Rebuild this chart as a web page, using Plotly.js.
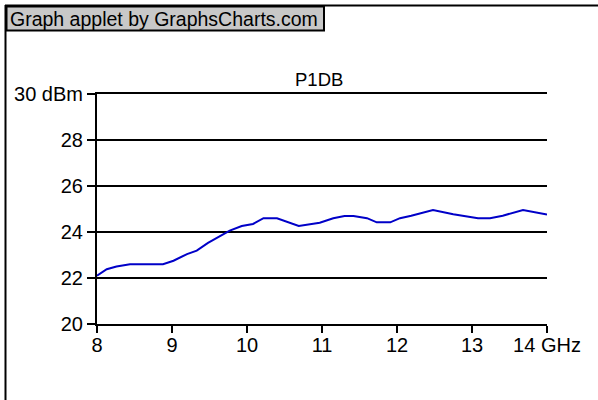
<!DOCTYPE html>
<html>
<head>
<meta charset="utf-8">
<script src="https://cdn.plot.ly/plotly-3.0.1.min.js"></script>
<style>
html,body{margin:0;padding:0;background:#fff;}
#chart{width:598px;height:400px;}
</style>
</head>
<body>
<div id="chart"></div>
<script>
// Data (frequency in GHz, P1dB in dBm)
var freqGHz = [8.00, 8.13, 8.26, 8.44, 8.88, 9.02, 9.20, 9.33, 9.48, 9.64, 9.77, 9.93, 10.08, 10.22, 10.40, 10.69, 10.97, 11.15, 11.30, 11.42, 11.60, 11.73, 11.91, 12.04, 12.19, 12.48, 12.75, 13.08, 13.24, 13.41, 13.68, 14.00];
var p1dbDBm = [22.10, 22.38, 22.50, 22.60, 22.60, 22.75, 23.04, 23.19, 23.53, 23.84, 24.06, 24.26, 24.35, 24.60, 24.60, 24.26, 24.40, 24.60, 24.70, 24.70, 24.60, 24.42, 24.42, 24.60, 24.71, 24.96, 24.77, 24.60, 24.60, 24.71, 24.96, 24.76];
var xTickVals = [8, 9, 10, 11, 12, 13, 14];
var xTickText = ['8', '9', '10', '11', '12', '13', '14 GHz'];
var yTickVals = [20, 22, 24, 26, 28, 30];
var yTickText = ['20', '22', '24', '26', '28', '30 dBm'];
var chartTitle = 'P1DB';
var bannerText = 'Graph applet by GraphsCharts.com';

// plot area in pixels
var L = 97, R = 547, T = 94, B = 324;
var W = 598, H = 400;
function px(x){ return (x - L) / (R - L); }
function py(y){ return (B - y) / (B - T); }

var font = 'Liberation Sans, Arial, sans-serif';

var trace = {
  x: freqGHz, y: p1dbDBm, type: 'scatter', mode: 'lines',
  line: {color: '#0000c8', width: 2},
  hoverinfo: 'skip'
};

var layout = {
  width: W, height: H,
  margin: {l: L, r: W - R, t: T, b: H - B, pad: 0},
  paper_bgcolor: '#ffffff', plot_bgcolor: '#ffffff',
  showlegend: false,
  font: {family: font, size: 20, color: '#000'},
  xaxis: {
    range: [8, 14], tickmode: 'array', tickvals: xTickVals, ticktext: xTickText,
    showline: true, linecolor: '#000', linewidth: 2, mirror: true,
    ticks: 'outside', ticklen: 7, tickwidth: 2, tickcolor: '#000',
    ticklabelstandoff: -5,
    showgrid: false, zeroline: false, fixedrange: true,
    tickfont: {family: font, size: 20, color: '#000'}
  },
  yaxis: {
    range: [20, 30], tickmode: 'array', tickvals: yTickVals, ticktext: yTickText,
    showline: true, linecolor: '#000', linewidth: 2,
    ticks: 'outside', ticklen: 8, tickwidth: 2, tickcolor: '#000',
    showgrid: true, gridcolor: '#000', gridwidth: 1.8,
    zeroline: false, fixedrange: true,
    tickfont: {family: font, size: 20, color: '#000'}
  },
  shapes: [
    // outer frame (left and top visible)
    {type: 'line', xref: 'paper', yref: 'paper', x0: px(5.5), x1: px(5.5), y0: py(5), y1: py(H + 10), line: {color: '#000', width: 2}},
    {type: 'line', xref: 'paper', yref: 'paper', x0: px(5), x1: px(W + 10), y0: py(5.5), y1: py(5.5), line: {color: '#000', width: 2}},
    // banner box
    {type: 'rect', xref: 'paper', yref: 'paper', x0: px(6.5), x1: px(324), y0: py(6.5), y1: py(30.5), fillcolor: '#c8c8c8', line: {color: '#000', width: 2}}
  ],
  annotations: [
    {text: bannerText, xref: 'paper', yref: 'paper', x: px(8), y: py(19), xanchor: 'left', yanchor: 'middle', showarrow: false, font: {family: font, size: 19.5, color: '#000'}},
    {text: chartTitle, xref: 'paper', yref: 'paper', x: px(319), y: py(80), xanchor: 'center', yanchor: 'middle', showarrow: false, font: {family: font, size: 18.5, color: '#000'}}
  ]
};

Plotly.newPlot('chart', [trace], layout, {staticPlot: true, displayModeBar: false});
</script>
</body>
</html>
